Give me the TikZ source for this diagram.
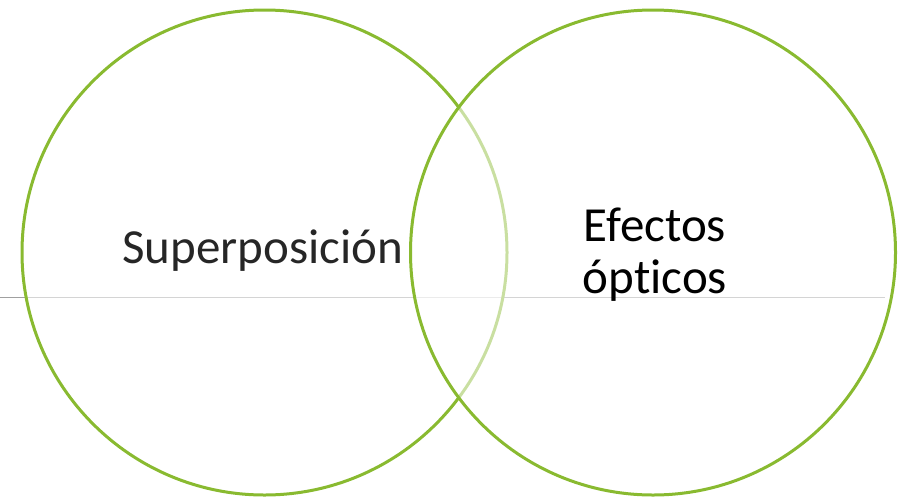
\documentclass[tikz,border=0pt]{standalone}
\usepackage{fontspec}
\setmainfont{Carlito}[Ligatures={NoCommon}]
\definecolor{vennverde}{RGB}{137,186,48}
\definecolor{ejegris}{RGB}{160,160,160}

\tikzset{
	venn/.style={circle, draw=vennverde, line width=3pt, fill=white, fill opacity=0.55, draw opacity=1, minimum size=485pt, inner sep=0pt},
	rotulo/.style={font=\fontsize{49}{52}\selectfont, align=center, text=black, inner sep=0pt}
}

\begin{document}
\begin{tikzpicture}[x=1pt,y=-1pt]
				\useasboundingbox (0,0) rectangle (910,501);
				
				\coordinate (ejeA) at (0,297.5);
				\coordinate (ejeB) at (885,297.5);
				\draw[ejegris, line width=1.8pt] (ejeA) -- (ejeB);
				
				\node[venn] (superpos) at (264.5,252.5) {};
				\node[venn] (efectos) at (653,252.5) {};
				
				\node[rotulo, text=black!85] (txtsuperpos) at (263,251) {Superposición};
				\node[rotulo] (txtefectos) at (655,255) {Efectos\\ópticos};
			\end{tikzpicture}
\end{document}
